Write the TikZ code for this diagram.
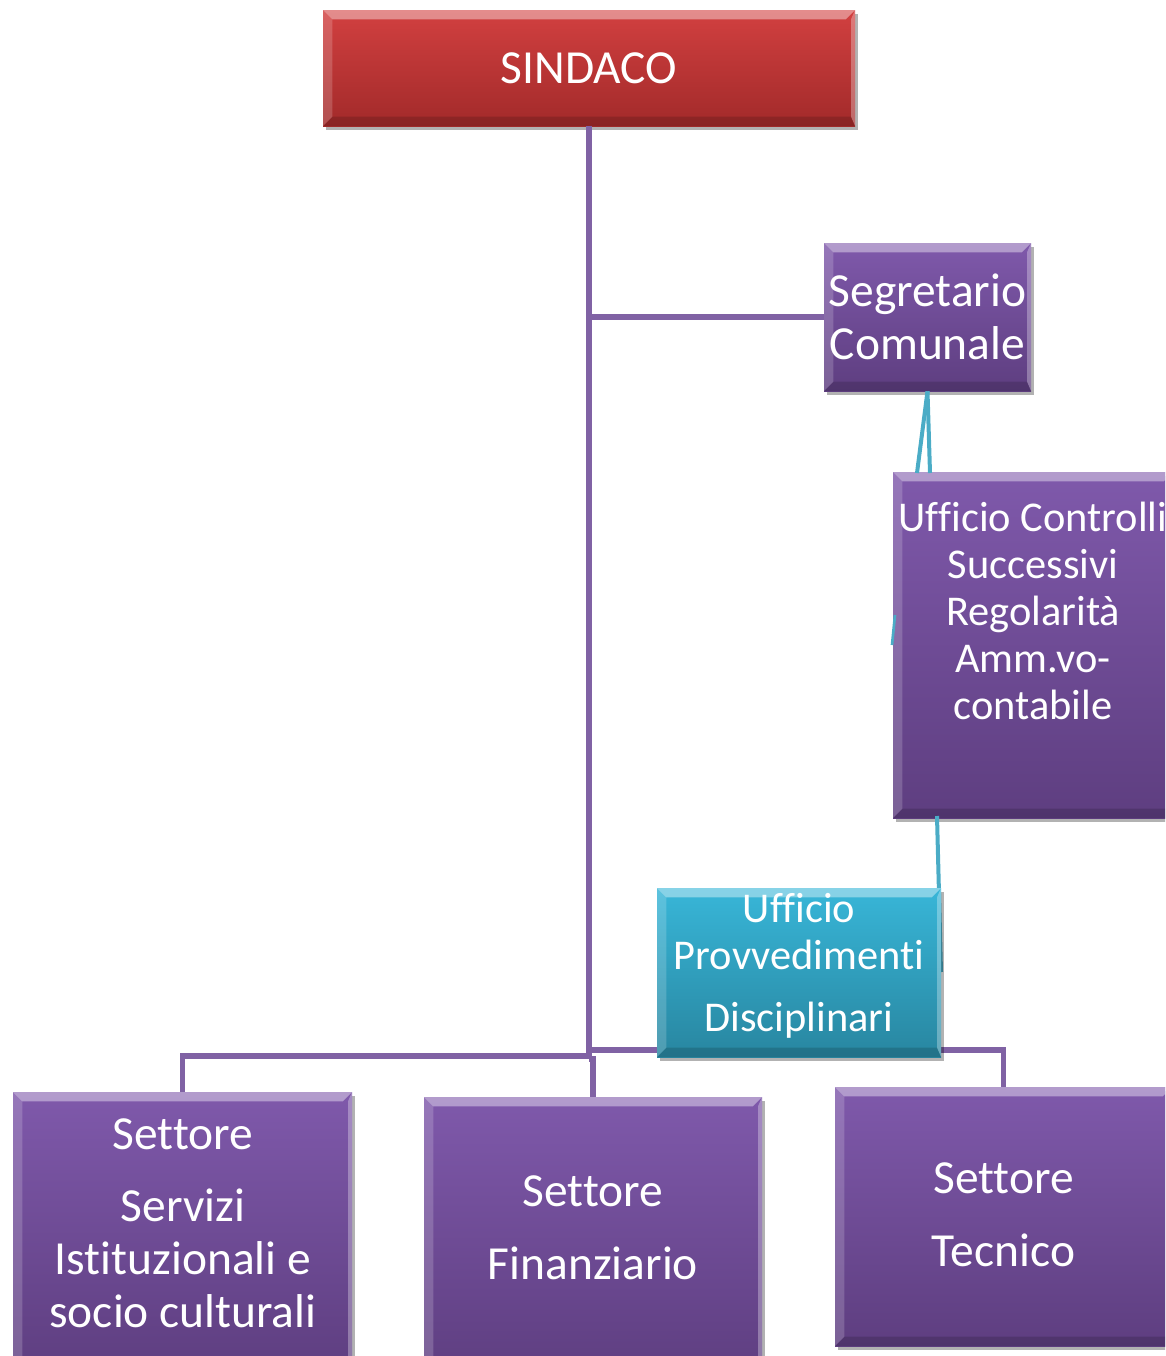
\documentclass[tikz,border=0pt]{standalone}
\usepackage{fontspec}
\setmainfont{Carlito}[Ligatures=NoCommon]
\usetikzlibrary{shadows,calc}
\definecolor{purpTop}{RGB}{127,89,171}
\definecolor{purpBot}{RGB}{94,62,128}
\definecolor{redTop}{RGB}{210,64,64}
\definecolor{redBot}{RGB}{162,42,42}
\definecolor{tealTop}{RGB}{56,182,216}
\definecolor{tealBot}{RGB}{40,134,160}
\definecolor{connP}{RGB}{128,98,164}
\definecolor{connT}{RGB}{75,172,198}
\tikzset{
  bevel/.style={path picture={
    \fill[white,opacity=.40] (path picture bounding box.north west) -- (path picture bounding box.north east)
      -- ([shift={(-7pt,-7pt)}]path picture bounding box.north east) -- ([shift={(7pt,-7pt)}]path picture bounding box.north west) -- cycle;
    \fill[white,opacity=.18] (path picture bounding box.north west) -- ([shift={(7pt,-7pt)}]path picture bounding box.north west)
      -- ([shift={(7pt,7pt)}]path picture bounding box.south west) -- (path picture bounding box.south west) -- cycle;
    \fill[white,opacity=.30] (path picture bounding box.north east) -- ([shift={(-3pt,-7pt)}]path picture bounding box.north east)
      -- ([shift={(-3pt,7pt)}]path picture bounding box.south east) -- (path picture bounding box.south east) -- cycle;
    \fill[black,opacity=.15] (path picture bounding box.south west) -- ([shift={(7pt,7pt)}]path picture bounding box.south west)
      -- ([shift={(-3pt,7pt)}]path picture bounding box.south east) -- (path picture bounding box.south east) -- cycle;
  }},
  orgbox/.style={rectangle, inner sep=0pt, text=white, align=center,
    drop shadow={shadow xshift=2pt, shadow yshift=-3pt, opacity=.30, fill=black}, bevel},
  purplebox/.style={orgbox, top color=purpTop, bottom color=purpBot},
  redbox/.style={orgbox, top color=redTop, bottom color=redBot},
  tealbox/.style={orgbox, top color=tealTop, bottom color=tealBot},
  boxtext/.style={inner sep=0pt, text=white, align=center},
  conn/.style={draw=connP, line width=3.8pt},
  tconn/.style={draw=connT, line width=3pt},
  bigfont/.style={font=\fontsize{35.6}{39.6}\selectfont},
  midfont/.style={font=\fontsize{31.8}{35.2}\selectfont}
}
\begin{document}
\begin{tikzpicture}[x=0.75pt,y=-0.75pt]
\useasboundingbox (0,0) rectangle (1165,1356);
\clip (0,0) rectangle (1165,1356);

% coordinates for connectors
\coordinate (jA) at (589,1056);
\coordinate (jB) at (589,1050);
\coordinate (jC) at (589,1059);
\coordinate (t1) at (917,473);
\coordinate (t2) at (930,473);
\coordinate (t3) at (937,816);
\coordinate (t4) at (941,972);
\coordinate (t5) at (892,645);
\coordinate (t6) at (895,615);

\node[redbox, minimum width={532*0.75pt}, minimum height={116*0.75pt}, font=\fontsize{35.6}{39}\selectfont] (sindaco) at (589,68) {SINDACO};

% connectors
\draw[conn] (sindaco.south) -- (jA);
\draw[conn] (jA) -| (182.5,1092);
\draw[conn] (jC) -| (593,1097);
\draw[conn] (jB) -| (1003.5,1087);

\node[purplebox, minimum width={207*0.75pt}, minimum height={148*0.75pt}, bigfont] (segr) at (927.5,317) {Segretario\\Comunale};
\draw[conn] (sindaco.south |- segr.west) -- (segr.west);

\node[purplebox, minimum width={280*0.75pt}, minimum height={346*0.75pt}] (ctrl) at (1033,645) {};
\node[boxtext, midfont] (ctrltext) at (1033,611) {Ufficio Controlli\\Successivi\\Regolarità\\Amm.vo-\\contabile};

\draw[tconn] (segr.south) -- (t1);
\draw[tconn] (segr.south) -- (t2);
\draw[tconn] (t3) -- (t4);
\draw[draw=connT, line width=2pt] (t5) -- (t6);

\node[tealbox, minimum width={284*0.75pt}, minimum height={169*0.75pt}] (provv) at (799,972.5) {};
\node[boxtext, midfont] (provvtext) at (799,966) {Ufficio\\Provvedimenti\\[11pt]Disciplinari};

\node[purplebox, minimum width={339*0.75pt}, minimum height={280*0.75pt}] (servizi) at (182.5,1232) {};
\node[boxtext, bigfont] (servizitext) at (183,1223) {Settore\\[15pt]Servizi\\Istituzionali e\\socio culturali};

\node[purplebox, minimum width={338*0.75pt}, minimum height={280*0.75pt}] (finanz) at (593,1237) {};
\node[boxtext, bigfont] (finanztext) at (593,1228) {Settore\\[15pt]Finanziario};

\node[purplebox, minimum width={337*0.75pt}, minimum height={259*0.75pt}] (tecnico) at (1003.5,1216.5) {};
\node[boxtext, bigfont] (tecnicotext) at (1003.5,1215) {Settore\\[15pt]Tecnico};
\end{tikzpicture}
\end{document}
